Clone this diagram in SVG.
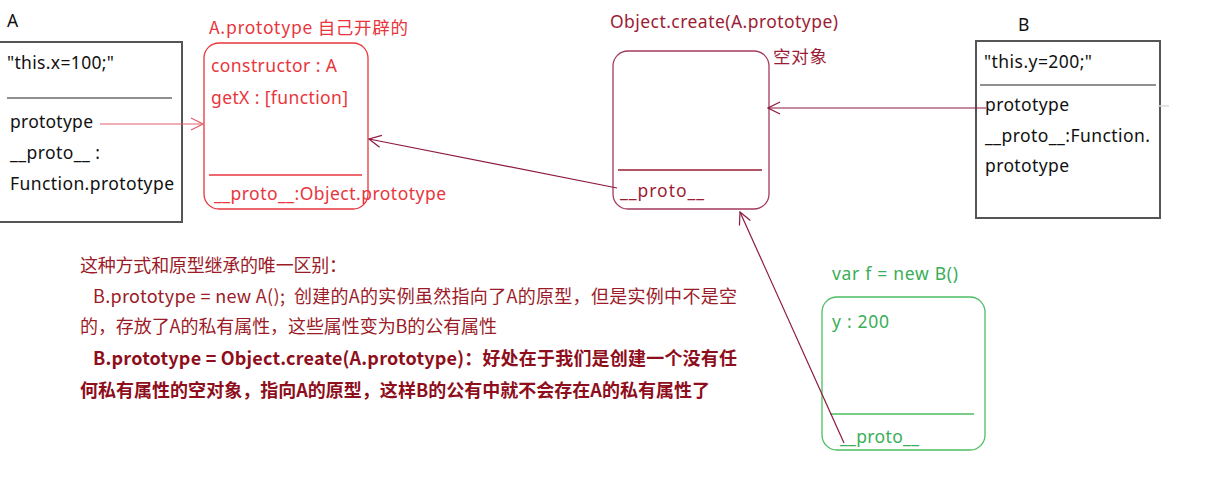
<svg xmlns="http://www.w3.org/2000/svg" width="1207" height="486" viewBox="0 0 1207 486">
<defs>
<style>
text{font-family:"Noto Sans","Noto Sans CJK SC",sans-serif;font-size:17.5px}
.cjk{font-family:"Noto Sans CJK SC","Noto Sans",sans-serif}
.blk{fill:#111}
.red{fill:#e8363c}
.mar{fill:#9b1d35}
.grn{fill:#3aae58}
.note{font-family:"Noto Sans CJK SC",sans-serif;font-size:18px;fill:#9b1b28}
.bold{font-weight:bold;fill:#8e0e1c}
.conn{fill:none;stroke-width:1.2}
</style>
<marker id="ahRed" viewBox="0 0 14 14" markerWidth="14" markerHeight="14" refX="13" refY="7" orient="auto" markerUnits="userSpaceOnUse">
<path d="M1,1 L13,7 L1,13" fill="none" stroke="#e0606c" stroke-width="1.2"/>
</marker>
<marker id="ahMar" viewBox="0 0 14 14" markerWidth="14" markerHeight="14" refX="13" refY="7" orient="auto" markerUnits="userSpaceOnUse">
<path d="M1,1 L13,7 L1,13" fill="none" stroke="#8b1a40" stroke-width="1.2"/>
</marker>
</defs>
<rect width="1207" height="486" fill="#fff"/>

<g id="nodeA">
<text x="7" y="27" class="blk">A</text>
<rect x="-1" y="42" width="183" height="180" fill="none" stroke="#555" stroke-width="2"/>
<text x="7" y="69" class="blk" textLength="107">"this.x=100;"</text>
<line x1="7" y1="98" x2="172" y2="98" stroke="#222" stroke-width="1.2"/>
<text x="10" y="128" class="blk" textLength="83">prototype</text>
<text x="10" y="159" class="blk" textLength="90">__proto__ :</text>
<text x="10" y="190" class="blk" textLength="164">Function.prototype</text>
</g>

<g id="nodeAproto">
<text x="209" y="34" class="red cjk" textLength="199">A.prototype  自己开辟的</text>
<rect x="204" y="43" width="164" height="166" rx="15" fill="none" stroke="#e8363c" stroke-width="1.3"/>
<text x="211" y="72" class="red" textLength="126">constructor : A</text>
<text x="211" y="104" class="red" textLength="137">getX : [function]</text>
<line x1="209" y1="175" x2="362" y2="175" stroke="#e8363c" stroke-width="1.3"/>
<text x="214" y="200" class="red" textLength="232">__proto__:Object.prototype</text>
</g>

<g id="nodeCreate">
<text x="610" y="28" class="mar" textLength="228">Object.create(A.prototype)</text>
<text x="773" y="63" class="mar cjk" textLength="54">空对象</text>
<rect x="613" y="51" width="156" height="158" rx="15" fill="none" stroke="#a33a5c" stroke-width="1.3"/>
<line x1="618" y1="170" x2="762" y2="170" stroke="#9b1d35" stroke-width="1.3"/>
<text x="620" y="197" class="mar" textLength="84">__proto__</text>
</g>

<g id="nodeB">
<text x="1018" y="31" class="blk">B</text>
<rect x="976" y="41" width="184" height="177" fill="none" stroke="#555" stroke-width="2"/>
<text x="984" y="68" class="blk" textLength="108">"this.y=200;"</text>
<line x1="980" y1="85" x2="1156" y2="85" stroke="#222" stroke-width="1.2"/>
<text x="985" y="111" class="blk" textLength="84">prototype</text>
<text x="985" y="142" class="blk" textLength="165">__proto__:Function.</text>
<text x="985" y="172" class="blk" textLength="84">prototype</text>
<line x1="1158" y1="106" x2="1169" y2="106" stroke="#ddd" stroke-width="1.5"/>
</g>

<g id="nodeF">
<text x="832" y="280" class="grn" textLength="126">var f = new B()</text>
<rect x="822" y="297" width="163" height="153" rx="15" fill="none" stroke="#4cbd62" stroke-width="1.3"/>
<text x="832" y="328" class="grn" textLength="57">y : 200</text>
<line x1="830" y1="414" x2="974" y2="414" stroke="#4cbd62" stroke-width="1.3"/>
<text x="840" y="443" class="grn" textLength="79">__proto__</text>
</g>

<g id="note">
<text x="80" y="272" class="note" textLength="267">这种方式和原型继承的唯一区别：</text>
<text x="93" y="303" class="note" textLength="644" xml:space="preserve">B.prototype = new A();  创建的A的实例虽然指向了A的原型，但是实例中不是空</text>
<text x="80" y="333" class="note" textLength="417">的，存放了A的私有属性，这些属性变为B的公有属性</text>
<text x="93" y="365" class="note bold" textLength="644">B.prototype = Object.create(A.prototype)：好处在于我们是创建一个没有任</text>
<text x="80" y="397" class="note bold" textLength="630">何私有属性的空对象，指向A的原型，这样B的公有中就不会存在A的私有属性了</text>
</g>

<g id="connectors">
<line x1="100" y1="124" x2="203" y2="124" class="conn" stroke="#e0606c" marker-end="url(#ahRed)"/>
<line x1="617" y1="188" x2="369" y2="139" class="conn" stroke="#8b1a40" marker-end="url(#ahMar)"/>
<line x1="986" y1="108" x2="768" y2="108" class="conn" stroke="#8b1a40" marker-end="url(#ahMar)"/>
<line x1="844" y1="443" x2="740" y2="212" class="conn" stroke="#8b1a40" marker-end="url(#ahMar)"/>
</g>
</svg>
